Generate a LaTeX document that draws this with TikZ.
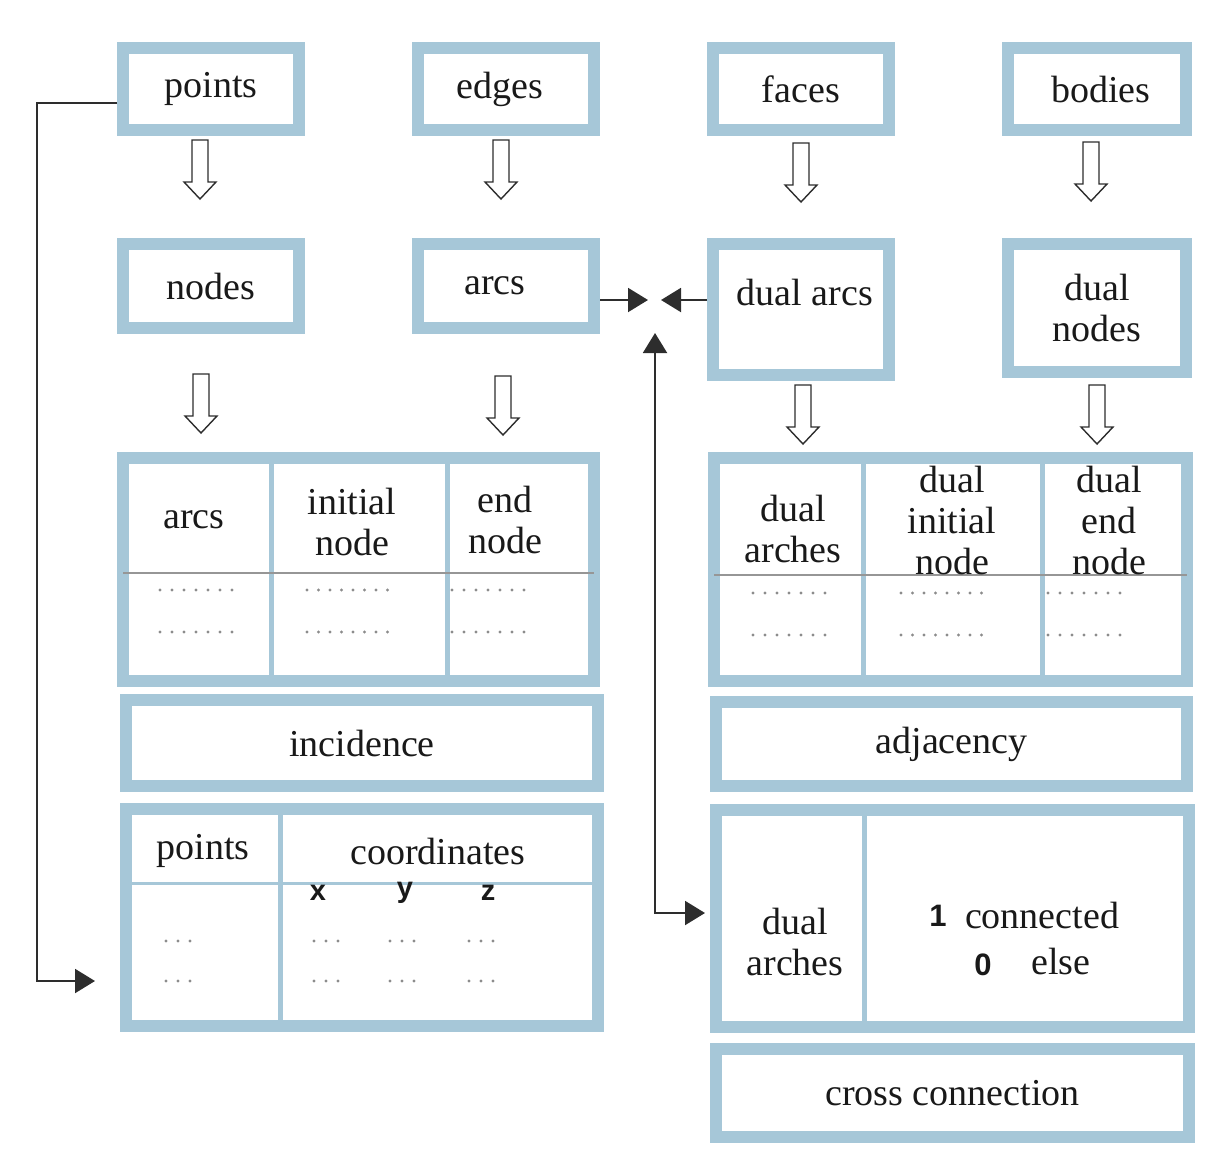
\documentclass[tikz,border=0pt]{standalone}
\usepackage{fontspec}
\setmainfont{Liberation Serif}
\newfontfamily\symfont{Liberation Sans}
\usetikzlibrary{arrows.meta,calc}

\definecolor{frameblue}{RGB}{166,199,216}
\definecolor{inkgray}{RGB}{45,45,45}
\definecolor{dotgray}{RGB}{140,140,140}
\definecolor{rulegray}{RGB}{150,150,150}
\definecolor{textblack}{RGB}{25,25,25}

\tikzset{
  box/.style={draw=frameblue, line width=12pt, fill=white, inner sep=0pt,
    text=textblack, font=\fontsize{38}{41}\selectfont, align=center},
  cell/.style={inner sep=0pt, text=textblack, font=\fontsize{38}{41}\selectfont, align=center},
  axis/.style={inner sep=0pt, text=textblack, font=\symfont\bfseries\fontsize{29}{32}\selectfont},
  flag/.style={inner sep=0pt, text=textblack, font=\symfont\bfseries\fontsize{31}{32}\selectfont},
  divider/.style={draw=frameblue, line width=5pt},
  hrule/.style={draw=rulegray, line width=2pt},
  conn/.style={draw=inkgray, line width=2pt, -{Triangle[length=20pt,width=24pt]}},
  hollow/.pic={
    \draw[line width=1.4pt, draw=inkgray, fill=white]
      (-8,0) -- (8,0) -- (8,42) -- (16,42) -- (0,59) -- (-16,42) -- (-8,42) -- cycle;
  }
}

% a row of small gray dots: start x, y, count, spacing
\newcommand\dotrow[4]{%
  \foreach \k in {1,...,#3}{\fill[dotgray] ({#1+(\k-1)*#4},#2) circle (1.6);}}

\begin{document}
\begin{tikzpicture}[x=1pt,y=-1pt]
\useasboundingbox (0,0) rectangle (1206,1149);

% ---- level 1: geometric entities
\node[box, minimum width=176pt, minimum height=82pt] (points) at (211,89) {points};
\node[box, minimum width=176pt, minimum height=82pt] (edges)  at (506,89) {edges\hspace{12pt}};
\node[box, minimum width=176pt, minimum height=82pt] (faces)  at (801,89) {faces};
\node[box, minimum width=178pt, minimum height=82pt] (bodies) at (1097,89) {\hspace{8pt}bodies};

% ---- level 2: graph entities
\node[box, minimum width=176pt, minimum height=84pt] (nodes)  at (211,286) {\raisebox{-5pt}{nodes}};
\node[box, minimum width=176pt, minimum height=84pt] (arcs)   at (506,286) {\raisebox{-5pt}{arcs}\hspace{22pt}};
\node[box, minimum width=176pt, minimum height=131pt] (duarcs) at (801,309.5) {};
\node[cell] (duarcstxt) at (805,292) {dual arcs};
\node[box, minimum width=178pt, minimum height=128pt] (dunodes) at (1097,308) {dual\\nodes};

% ---- block arrows between levels
\pic at (200,140) {hollow};
\pic at (501,140) {hollow};
\pic at (801,143) {hollow};
\pic at (1091,142) {hollow};
\pic at (201,374) {hollow};
\pic at (503,376) {hollow};
\pic at (803,385) {hollow};
\pic at (1097,385) {hollow};

% ---- incidence table
\node[box, minimum width=471pt, minimum height=223pt] (ltab) at (358.5,569.5) {};
\draw[divider] (271,458) -- (271,681);
\draw[divider] (447,458) -- (447,681);
\draw[hrule] (123,573) -- (594,573);
\node[cell] (ltarcs) at (194,520) {arcs};
\node[cell] (ltinit) at (352,522) {initial\\node};
\node[cell] (ltend)  at (505,520) {end\\node};
\dotrow{160}{590}{7}{12}
\dotrow{160}{632}{7}{12}
\dotrow{307}{590}{8}{11.5}
\dotrow{307}{632}{8}{11.5}
\dotrow{452}{590}{7}{12}
\dotrow{452}{632}{7}{12}

\node[box, minimum width=472pt, minimum height=86pt] (incid) at (362,743) {incidence};

% ---- coordinate table
\node[box, minimum width=472pt, minimum height=217pt] (ctab) at (362,917.5) {};
\draw[divider] (280,809) -- (280,1026);
\draw[draw=frameblue, line width=3pt] (126,883) -- (598,883);
\node[cell] (ctpts) at (203,851) {points};
\node[cell] (ctcrd) at (438,851) {coordinates};
\node[axis] (cx) at (318,893) {x};
\node[axis] (cy) at (405,893) {y};
\node[axis] (cz) at (488,893) {z};
\dotrow{166}{941}{3}{12}
\dotrow{166}{981}{3}{12}
\dotrow{314}{941}{3}{12}
\dotrow{314}{981}{3}{12}
\dotrow{390}{941}{3}{12}
\dotrow{390}{981}{3}{12}
\dotrow{469}{941}{3}{12}
\dotrow{469}{981}{3}{12}

% ---- dual table
\node[box, minimum width=473pt, minimum height=223pt] (rtab) at (950.5,569.5) {};
\draw[divider] (863,458) -- (863,681);
\draw[divider] (1042,458) -- (1042,681);
\draw[hrule] (714,575) -- (1187,575);
\node[cell] (rtarch) at (793,529) {dual\\arches};
\node[cell] (rtinit) at (952,520) {dual\\initial\\node};
\node[cell] (rtend)  at (1109,520) {dual\\end\\node};
\dotrow{753}{593}{7}{12}
\dotrow{753}{635}{7}{12}
\dotrow{901}{593}{8}{11.5}
\dotrow{901}{635}{8}{11.5}
\dotrow{1048}{593}{7}{12}
\dotrow{1048}{635}{7}{12}

\node[box, minimum width=471pt, minimum height=84pt] (adjac) at (951.5,744) {adjacency};

% ---- cross connection matrix
\node[box, minimum width=473pt, minimum height=217pt] (xtab) at (952.5,918.5) {};
\draw[divider] (864,810) -- (864,1027);
\node[cell] (xtarch) at (795,942) {dual\\arches};
\node[flag] (one) at (938,916) {1};
\node[cell] (conn) at (1042,915) {connected};
\node[flag] (zero) at (983,965) {0};
\node[cell] (else) at (1061,961) {else};

\node[box, minimum width=473pt, minimum height=88pt] (cross) at (952.5,1093) {cross connection};

% ---- connectors
\coordinate (ptsin) at (95,981);
\coordinate (hubL) at (648,300);
\coordinate (hubR) at (661,300);
\coordinate (hubB) at (655,333);

\draw[conn] ([yshift=-14pt]points.west) -- ++(-80,0) |- (ptsin);
\draw[conn] ([yshift=-14pt]arcs.east) -- (hubL);
\draw[conn] ([yshift=9.5pt]duarcs.west) -- (hubR);
\draw[conn, {Triangle[length=20pt,width=24pt]}-{Triangle[length=20pt,width=24pt]}, shorten >=5pt]
  (hubB) |- ([yshift=5.5pt]xtab.west);
\end{tikzpicture}
\end{document}
